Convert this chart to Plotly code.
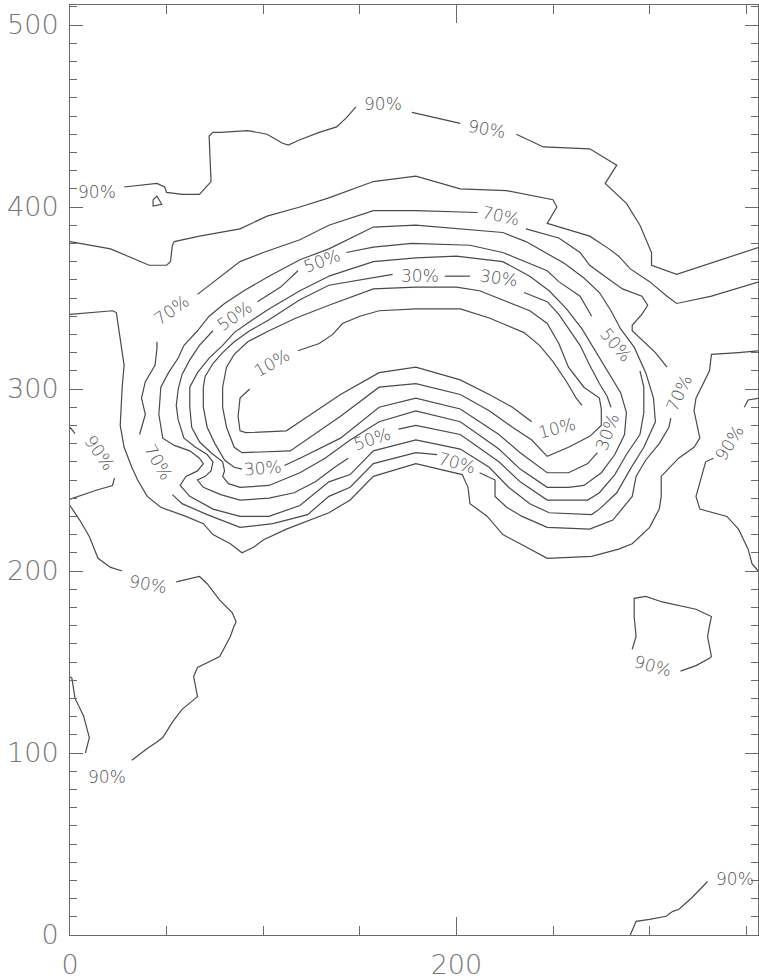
import plotly.graph_objects as go

# ---------------------------------------------------------------------------
# Contour lines of the percentage field, one or more polylines per level.
# Breaks in a level's line are where its labels are written.
# ---------------------------------------------------------------------------
c10_a_x = [265, 262, 257, 250, 243, 235, 226, 217, 202, 179, 160, 150, 141, 136, 129, 118]
c10_a_y = [291, 295, 304, 315, 324, 331, 335, 339, 344, 344, 343, 340, 336, 330, 325, 321]
c10_b_x = [93, 88, 87, 88, 91, 112, 119, 140, 160, 179, 202, 217, 229, 239]
c10_b_y = [300, 295, 285, 277, 276, 277, 282, 297, 309, 312, 305, 297, 290, 282]

c20_x = [134, 157, 179, 200, 212, 224, 238, 247, 253, 258, 266, 274, 275, 275, 269, 258, 247, 239, 229,
         217, 202, 179, 160, 140, 121, 114, 89, 85, 81, 79, 79, 81, 85, 92, 103, 117, 134]
c20_y = [346, 355, 356, 356, 354, 349, 343, 336, 325, 312, 301, 295, 289, 280, 274, 268, 263, 272, 279,
         288, 297, 303, 301, 285, 271, 266, 265, 268, 279, 290, 301, 312, 319, 326, 332, 339, 346]

c30_a_x = [89, 85, 80, 75, 71, 69, 69, 70, 74, 79, 85, 93, 103, 119, 134, 167]
c30_a_y = [256, 257, 261, 270, 279, 290, 301, 307, 314, 320, 326, 332, 338, 349, 357, 363]
c30_b_x = [194, 207]
c30_b_y = [362, 362]
c30_c_x = [235, 247, 253, 258, 264, 269, 274, 278, 280]
c30_c_y = [353, 348, 341, 333, 324, 313, 303, 296, 290]
c30_d_x = [273, 268, 258, 247, 233, 222, 202, 179, 160, 140, 119, 111]
c30_d_y = [265, 259, 254, 254, 265, 275, 289, 295, 290, 273, 262, 258]

c40_x = [134, 157, 179, 200, 224, 238, 248, 257, 265, 272, 279, 285, 288, 287, 282, 275, 266, 258, 247, 233,
         222, 202, 179, 160, 145, 132, 119, 103, 88, 82, 79, 80, 79, 73, 67, 63, 62, 62, 66, 72,
         79, 85, 93, 103, 119, 134]
c40_y = [362, 370, 372, 373, 370, 362, 354, 344, 333, 321, 309, 298, 287, 275, 264, 254, 247, 246, 246, 256,
         267, 282, 288, 282, 272, 262, 254, 247, 246, 248, 252, 255, 260, 265, 271, 279, 290, 301, 309, 317,
         324, 331, 337, 344, 354, 362]

c50_a_x = [295, 297, 297, 295, 288, 282, 274, 268, 247, 233, 222, 202, 179, 170]
c50_a_y = [310, 301, 287, 275, 264, 253, 243, 239, 239, 249, 260, 275, 280, 278]
c50_b_x = [144, 137, 127, 116, 103, 88, 78, 69, 66, 70, 73, 74, 71, 65, 59, 56, 55, 56, 58, 62, 67, 74]
c50_b_y = [262, 257, 249, 243, 240, 239, 242, 246, 250, 252, 255, 260, 264, 268, 273, 283, 291, 300, 308,
           316, 324, 332]
c50_c_x = [97, 109, 118]
c50_c_y = [348, 356, 365]
c50_d_x = [143, 157, 177, 207, 224, 238, 247, 253, 264, 270]
c50_d_y = [375, 378, 380, 379, 375, 369, 365, 359, 351, 340]

c60_x = [134, 157, 179, 203, 224, 236, 246, 256, 266, 274, 280, 285, 292, 298, 302, 303, 297, 290, 283, 274,
         270, 248, 238, 227, 217, 202, 179, 157, 145, 134, 119, 103, 88, 74, 62, 57, 60, 66, 69, 67,
         62, 54, 48, 46, 47, 51, 56, 59, 66, 72, 80, 90, 103, 119, 134]
c60_y = [377, 389, 390, 388, 386, 381, 375, 369, 361, 353, 343, 333, 323, 309, 295, 282, 268, 256, 243, 234,
         231, 232, 237, 246, 257, 267, 272, 266, 253, 249, 236, 230, 230, 234, 241, 247, 252, 255, 259, 262,
         266, 269, 273, 286, 301, 309, 317, 324, 332, 340, 347, 354, 362, 371, 377]

c70_a_x = [66, 72, 78, 83, 88, 100, 119, 134, 157, 179, 211]
c70_a_y = [352, 357, 362, 366, 370, 375, 382, 390, 398, 398, 397]
c70_b_x = [236, 253, 264, 269, 278, 286, 296, 299, 296, 291, 291, 295, 303, 309]
c70_b_y = [388, 383, 375, 368, 361, 355, 351, 346, 341, 335, 332, 328, 320, 312]
c70_c_x = [311, 310, 305, 298, 293, 291, 281, 269, 247, 234, 226, 220, 220, 212]
c70_c_y = [284, 279, 270, 261, 252, 241, 228, 223, 224, 230, 235, 241, 250, 254]
c70_d_x = [190, 179, 157, 145, 134, 123, 105, 88, 71, 58, 53]
c70_d_y = [264, 265, 259, 246, 241, 231, 226, 224, 231, 237, 242]
c70_e_x = [36, 39, 37, 39, 44, 45, 45]
c70_e_y = [275, 286, 295, 304, 313, 322, 326]

c80_top_x = [0, 21, 41, 50, 52, 53, 54, 67, 88, 102, 119, 134, 157, 179, 202, 226, 250, 252, 247, 257,
             269, 279, 284, 290, 300, 309, 314, 332, 357]
c80_top_y = [381, 377, 368, 368, 370, 379, 381, 384, 388, 395, 400, 405, 414, 417, 410, 409, 404, 400, 391, 388,
             384, 377, 373, 366, 359, 351, 347, 351, 359]
c80_bot_x = [0, 22, 24, 26, 28, 27, 26, 28, 32, 35, 40, 47, 60, 69, 74, 83, 89, 95, 100, 112,
             134, 145, 157, 179, 203, 206, 207, 216, 224, 233, 247, 270, 284, 291, 300, 305, 306, 306, 315, 323,
             326, 323, 324, 331, 332, 346, 357]
c80_bot_y = [341, 343, 342, 328, 313, 301, 280, 268, 257, 250, 241, 235, 230, 226, 220, 215, 210, 213, 217, 223,
             232, 239, 252, 259, 253, 246, 237, 230, 220, 215, 207, 208, 212, 215, 224, 234, 241, 252, 262, 268,
             273, 288, 295, 310, 319, 320, 321]

c90_top_a_x = [28, 45, 49, 50, 58, 67, 73, 72, 74, 78, 92, 102, 110, 113, 119, 129, 138, 143, 148]
c90_top_a_y = [411, 413, 411, 408, 407, 407, 414, 439, 441, 441, 442, 440, 435, 434, 437, 441, 444, 449, 455]
c90_top_b_x = [177, 202]
c90_top_b_y = [452, 446]
c90_top_c_x = [231, 245, 269, 283, 277, 288, 295, 301, 301, 314, 357]
c90_top_c_y = [440, 433, 432, 423, 413, 402, 390, 375, 368, 363, 378]
c90_dot_x = [43, 45, 47.5, 43, 43]
c90_dot_y = [404, 406, 401.5, 400.5, 404]
c90_bump_a_x = [0, 2.6]
c90_bump_a_y = [279, 275.5]
c90_bump_b_x = [23, 22, 14, 7, 0]
c90_bump_b_y = [251, 247, 244.5, 242, 239.5]
c90_lobe_a_x = [0, 5, 10, 14.5, 21, 27]
c90_lobe_a_y = [236, 228, 219, 207, 202, 200]
c90_lobe_b_x = [55, 67, 71, 77.5, 84, 86, 85, 83, 77.5, 66, 64, 66, 58, 53, 48, 45, 40, 32]
c90_lobe_b_y = [194, 197, 193, 184, 177, 172, 170, 164, 153, 147, 142, 131, 124, 117, 108.5, 106, 102.5, 96]
c90_lobe_c_x = [8, 9, 10, 7, 2.6, 1, 0]
c90_lobe_c_y = [100, 104, 108.5, 120.5, 130, 141, 142]
c90_loop_x = [291, 293, 292, 292, 298, 306.5, 324, 332, 331, 330, 332, 331, 324, 316]
c90_loop_y = [157, 164, 175, 185, 186, 183, 179, 175, 170, 164, 153, 152, 148, 145]
c90_right_a_x = [357, 351, 349]
c90_right_a_y = [295, 294, 290]
c90_right_b_x = [333, 329, 324, 326, 340, 346, 351, 353, 357]
c90_right_b_y = [262, 260, 241, 234, 230, 223, 212, 204, 199]
c90_corner_x = [290, 293, 300, 308.5, 312, 315, 322, 330]
c90_corner_y = [0, 7.5, 8.6, 10.3, 13, 14, 20.6, 29.4]

# Level labels: level, position and text angle
label_level = [10, 10,
               30, 30, 30, 30,
               50, 50, 50, 50,
               70, 70, 70, 70, 70,
               90, 90, 90, 90, 90, 90, 90, 90, 90]
label_x = [104.4, 252.2,
           181.4, 222.2, 278.0, 99.7,
           85.3, 130.2, 282.7, 156.1,
           52.7, 223.3, 315.2, 200.5, 45.5,
           14.0, 161.8, 216.0, 15.5, 40.3, 19.1, 301.8, 341.1, 344.1]
label_y = [314.3, 278.8,
           362.3, 361.2, 276.6, 256.4,
           339.9, 370.5, 324.1, 272.8,
           343.2, 395.0, 297.9, 259.2, 259.7,
           408.2, 456.8, 443.1, 265.1, 192.6, 86.7, 147.8, 270.6, 30.5]
label_angle = [-30, -15,
               0, 8, -70, -5,
               -35, -20, 50, -18,
               -35, 12, -65, 15, 60,
               0, 0, 10, 55, 10, 0, 15, -58, 0]

x_range = [0, 356.1]
y_range = [0, 511]

contours = [
    (10, [(c10_a_x, c10_a_y), (c10_b_x, c10_b_y)]),
    (20, [(c20_x, c20_y)]),
    (30, [(c30_a_x, c30_a_y), (c30_b_x, c30_b_y), (c30_c_x, c30_c_y), (c30_d_x, c30_d_y)]),
    (40, [(c40_x, c40_y)]),
    (50, [(c50_a_x, c50_a_y), (c50_b_x, c50_b_y), (c50_c_x, c50_c_y), (c50_d_x, c50_d_y)]),
    (60, [(c60_x, c60_y)]),
    (70, [(c70_a_x, c70_a_y), (c70_b_x, c70_b_y), (c70_c_x, c70_c_y), (c70_d_x, c70_d_y),
          (c70_e_x, c70_e_y)]),
    (80, [(c80_top_x, c80_top_y), (c80_bot_x, c80_bot_y)]),
    (90, [(c90_top_a_x, c90_top_a_y), (c90_top_b_x, c90_top_b_y), (c90_top_c_x, c90_top_c_y),
          (c90_dot_x, c90_dot_y), (c90_bump_a_x, c90_bump_a_y), (c90_bump_b_x, c90_bump_b_y),
          (c90_lobe_a_x, c90_lobe_a_y), (c90_lobe_b_x, c90_lobe_b_y), (c90_lobe_c_x, c90_lobe_c_y),
          (c90_loop_x, c90_loop_y), (c90_right_a_x, c90_right_a_y), (c90_right_b_x, c90_right_b_y),
          (c90_corner_x, c90_corner_y)]),
]

LINE_COLOR = "#4a4a4a"
TEXT_COLOR = "#555555"
AXIS_COLOR = "#6a6a6a"
FONT = "DejaVu Sans"

fig = go.Figure()

for level, segments in contours:
    xs, ys = [], []
    for sx, sy in segments:
        xs += list(sx) + [None]
        ys += list(sy) + [None]
    fig.add_trace(go.Scatter(
        x=xs, y=ys, mode="lines", name=f"{level}%",
        line=dict(color=LINE_COLOR, width=1.2),
        hoverinfo="skip", showlegend=False, connectgaps=False,
    ))

for lv, lx, ly, la in zip(label_level, label_x, label_y, label_angle):
    fig.add_annotation(
        x=lx, y=ly, xref="x", yref="y", text=f"{lv}%", showarrow=False,
        textangle=la, font=dict(family=FONT, size=17, color=TEXT_COLOR, weight=200),
        xanchor="center", yanchor="middle",
    )

fig.update_xaxes(
    range=x_range, tick0=0, dtick=200, ticks="inside", ticklen=18, tickwidth=1,
    tickcolor=AXIS_COLOR, showline=True, linecolor=AXIS_COLOR, linewidth=1,
    mirror="ticks", showgrid=False, zeroline=False,
    minor=dict(dtick=50, ticks="inside", ticklen=9, tickcolor=AXIS_COLOR, showgrid=False),
    tickfont=dict(family=FONT, size=27, color="#777777", weight=200),
    ticklabelstandoff=6,
)
fig.update_yaxes(
    range=y_range, tick0=0, dtick=100, ticks="inside", ticklen=13, tickwidth=1,
    tickcolor=AXIS_COLOR, showline=True, linecolor=AXIS_COLOR, linewidth=1,
    mirror="ticks", showgrid=False, zeroline=False,
    minor=dict(dtick=10, ticks="inside", ticklen=7, tickcolor=AXIS_COLOR, showgrid=False),
    tickfont=dict(family=FONT, size=27, color="#777777", weight=200),
    ticklabelstandoff=5,
)

fig.update_layout(
    width=759, height=980,
    margin=dict(l=70, r=0, t=5, b=39),
    paper_bgcolor="white", plot_bgcolor="white",
    showlegend=False,
)

fig.write_html("out.html")
